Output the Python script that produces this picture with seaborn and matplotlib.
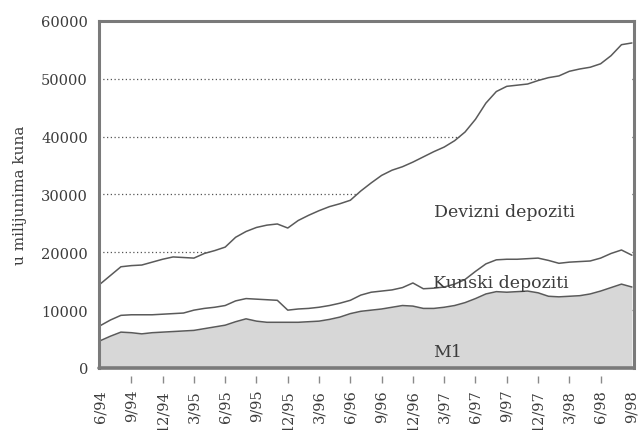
import numpy as np
import pandas as pd
import matplotlib
matplotlib.use("Agg")
import matplotlib.pyplot as plt
import seaborn as sns

# ---- data (u milijunima kuna), monthly 6/94 .. 9/98 ----
tick_labels = ["6/94", "9/94", "12/94", "3/95", "6/95", "9/95", "12/95", "3/96",
               "6/96", "9/96", "12/96", "3/97", "6/97", "9/97", "12/97", "3/98",
               "6/98", "9/98"]
months = list(range(52))

# M1
m1 = [4700, 5500, 6200, 6100, 5900, 6100, 6200, 6300, 6400, 6500,
      6800, 7100, 7400, 8000, 8500, 8100, 7900, 7900, 7900, 7900,
      8000, 8100, 8400, 8800, 9400, 9800, 10000, 10200, 10500, 10800,
      10700, 10300, 10300, 10500, 10800, 11300, 12000, 12800, 13200, 13100,
      13200, 13300, 13000, 12400, 12300, 12400, 12500, 12800, 13300, 13900,
      14500, 14000]
# M1 + kunski depoziti (cumulative level)
m1_kunski = [7300, 8300, 9100, 9200, 9200, 9200, 9300, 9400, 9500, 10000,
             10300, 10500, 10800, 11600, 12000, 11900, 11800, 11700, 10000, 10200,
             10300, 10500, 10800, 11200, 11700, 12600, 13100, 13300, 13500, 13900,
             14700, 13700, 13800, 14000, 14500, 15300, 16700, 18000, 18700, 18800,
             18800, 18900, 19000, 18600, 18100, 18300, 18400, 18500, 19000, 19800,
             20400, 19500]
# M1 + kunski + devizni depoziti (cumulative level)
ukupno = [14500, 16000, 17500, 17700, 17800, 18300, 18800, 19200, 19100, 19000,
          19800, 20300, 20900, 22600, 23600, 24300, 24700, 24900, 24200, 25500,
          26400, 27200, 27900, 28400, 29000, 30600, 32000, 33300, 34200, 34800,
          35600, 36500, 37400, 38200, 39300, 40800, 43000, 45800, 47800, 48700,
          48900, 49100, 49700, 50200, 50500, 51300, 51700, 52000, 52600, 54000,
          55900, 56200]

series_names = ["M1", "Kunski depoziti", "Devizni depoziti"]

df = pd.DataFrame({
    "mjesec": months * 3,
    "iznos": m1 + m1_kunski + ukupno,
    "serija": sum([[n] * len(months) for n in series_names], []),
})

# ---- style ----
sns.set_theme(style="white")
plt.rcParams["font.family"] = ["DejaVu Serif"]

fig = plt.figure(figsize=(6.4, 4.31), dpi=100)
ax = fig.add_axes([0.1547, 0.1439, 0.9906 - 0.1547, 0.949 - 0.1439])

line_col = "#5a5a5a"
frame_col = "#7a7a7a"
text_col = "#3c3c3c"

# areas
ax.fill_between(months, 0, ukupno, color="white", zorder=1, linewidth=0)
ax.fill_between(months, 0, m1, color="#d7d7d7", zorder=1.1, linewidth=0)

sns.lineplot(data=df, x="mjesec", y="iznos", hue="serija",
             palette=[line_col] * 3, linewidth=1.1, legend=False,
             ax=ax, zorder=2)

ax.set_xlim(-0.1, 51.2)
ax.set_ylim(0, 60000)

# grid
ax.set_axisbelow(True)
ax.yaxis.grid(True, linestyle=(0, (1, 2)), color="#555555", linewidth=0.9)
ax.xaxis.grid(False)

# y axis
ax.set_yticks(np.arange(0, 60001, 10000))
ax.tick_params(axis="y", left=False, length=0, pad=8, labelsize=10.5,
               labelcolor=text_col)
ax.set_ylabel("u milijunima kuna", fontsize=11, color=text_col, labelpad=10)

# x axis
ax.set_xticks(np.arange(0, 52, 3))
ax.set_xticklabels(tick_labels)
ax.tick_params(axis="x", bottom=True, length=5, width=1, color="#8a8a8a",
               pad=4, direction="out", labelrotation=90, labelsize=10.5,
               labelcolor=text_col)
ax.set_xlabel("")

# frame
for s in ["left", "top", "right"]:
    ax.spines[s].set_color(frame_col)
    ax.spines[s].set_linewidth(2.2)
ax.spines["bottom"].set_position(("outward", 6))
ax.spines["bottom"].set_visible(False)
ax.axhline(0, color=frame_col, linewidth=2.6, zorder=3, clip_on=False)

ticks = ax.xaxis.get_major_ticks()
for t in (ticks[0], ticks[-1]):
    t.tick1line.set_visible(False)

# labels
ax.text(38.8, 27000, "Devizni depoziti", fontsize=12.5, color=text_col,
        ha="center", va="center", zorder=4)
ax.text(38.4, 14800, "Kunski depoziti", fontsize=12.5, color=text_col,
        ha="center", va="center", zorder=4)
ax.text(33.3, 2900, "M1", fontsize=12.5, color=text_col,
        ha="center", va="center", zorder=4)

fig.savefig("out.png", dpi=100)
